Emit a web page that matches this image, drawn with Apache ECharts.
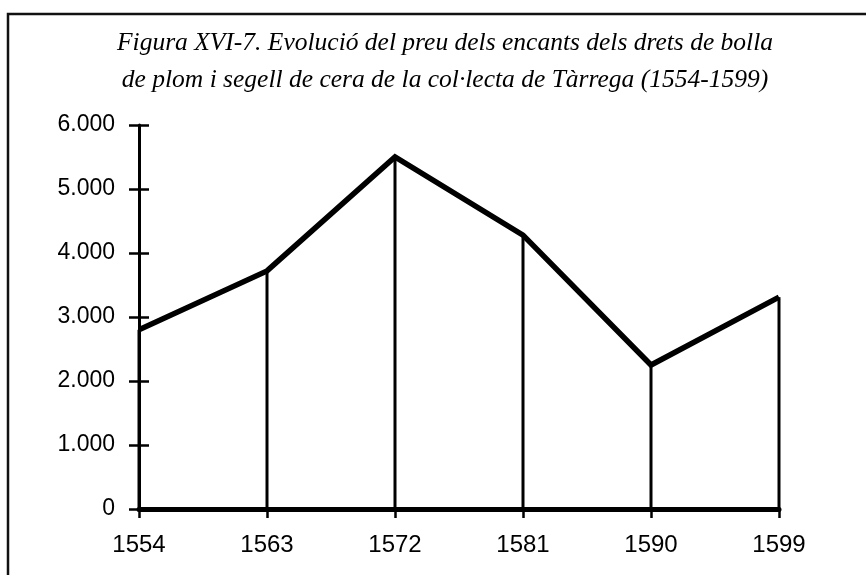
<!DOCTYPE html>
<html>
<head>
<meta charset="utf-8">
<script src="https://cdn.jsdelivr.net/npm/echarts@6/dist/echarts.min.js"></script>
<style>
html,body{margin:0;padding:0;background:#fff;}
#chart{width:866px;height:575px;}
</style>
</head>
<body>
<div id="chart"></div>
<script>
const titleLines = [
  "Figura XVI-7. Evolució del preu dels encants dels drets de bolla",
  "de plom i segell de cera de la col·lecta de Tàrrega (1554-1599)"
];
const years = ["1554", "1563", "1572", "1581", "1590", "1599"];
const prices = [2800, 3720, 5500, 4280, 2250, 3310];
const yMin = 0, yMax = 6000, yStep = 1000;

function fmt(v) {
  if (v === 0) return "0";
  const s = String(v);
  return s.replace(/\B(?=(\d{3})+(?!\d))/g, ".");
}

const chart = echarts.init(document.getElementById('chart'), null, {renderer: 'canvas'});
chart.setOption({
  backgroundColor: '#fff',
  animation: false,
  title: {
    text: titleLines.join('\n'),
    left: 440, textAlign: 'center', top: 20,
    textStyle: {
      fontFamily: '"Liberation Serif", "Times New Roman", serif',
      fontStyle: 'italic', fontWeight: 'normal',
      fontSize: 25.5, lineHeight: 37, color: '#000'
    }
  },
  graphic: [{
    type: 'polyline',
    shape: {points: [[866, 14], [8, 14], [8, 575]]},
    style: {stroke: '#111', lineWidth: 2.5, fill: null}
  }],
  grid: {left: 139, right: 87, top: 125, bottom: 66, containLabel: false},
  xAxis: {
    type: 'category', data: years, boundaryGap: false,
    axisLine: {show: true, lineStyle: {color: '#000', width: 5}},
    axisTick: {show: true, alignWithLabel: true, inside: false, length: 9, lineStyle: {color: '#000', width: 2.5}},
    axisLabel: {
      margin: 24, color: '#000',
      fontFamily: '"Liberation Sans", Arial, sans-serif',
      fontSize: 24
    },
    splitLine: {show: false}
  },
  yAxis: [{
    type: 'value', min: yMin, max: yMax, interval: yStep, position: 'left',
    axisLine: {show: true, lineStyle: {color: '#000', width: 3}},
    axisTick: {show: true, inside: false, length: 10, lineStyle: {color: '#000', width: 2.5}},
    axisLabel: {
      margin: 24, color: '#000', formatter: fmt, padding: [0, 0, 7, 0],
      fontFamily: '"Liberation Sans", Arial, sans-serif', fontSize: 23
    },
    splitLine: {show: false}
  }, {
    type: 'value', min: yMin, max: yMax, interval: yStep, position: 'left', offset: 0,
    axisLine: {show: false},
    axisTick: {show: true, inside: true, length: 10, lineStyle: {color: '#000', width: 2.5}},
    axisLabel: {show: false},
    splitLine: {show: false}
  }],
  series: [{
    type: 'bar', data: prices, barWidth: 3, yAxisIndex: 0,
    itemStyle: {color: '#000'}, silent: true
  }, {
    type: 'line', data: prices, yAxisIndex: 0,
    symbol: 'none', smooth: false,
    lineStyle: {color: '#000', width: 5.5, join: 'miter'}
  }]
});
</script>
</body>
</html>
